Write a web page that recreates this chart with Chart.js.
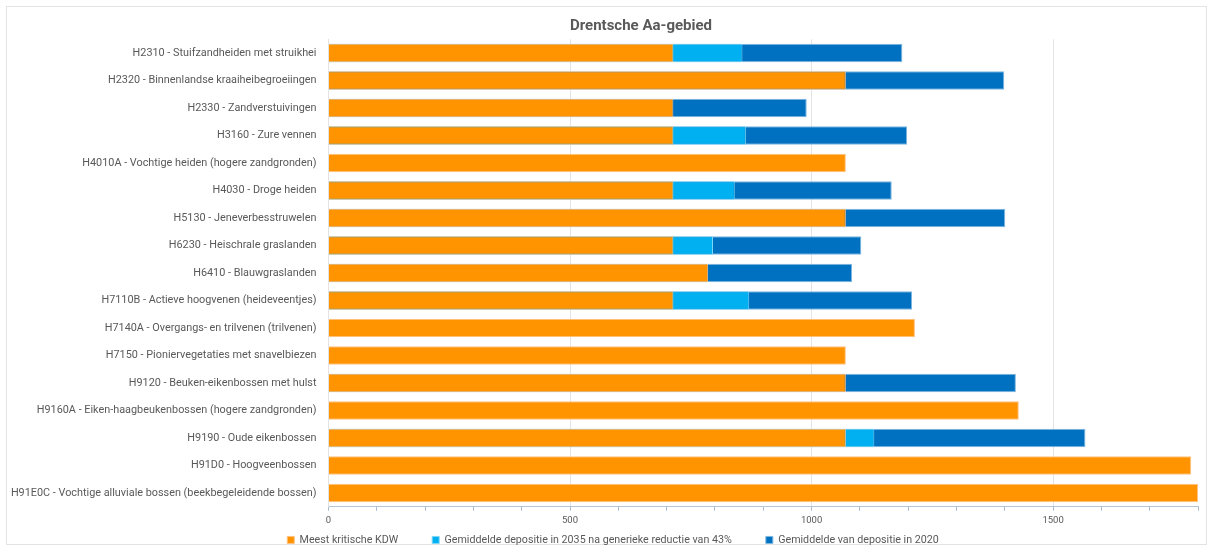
<!DOCTYPE html>
<html>
<head>
<meta charset="utf-8">
<script src="https://cdn.jsdelivr.net/npm/chart.js@4.4.1/dist/chart.umd.min.js"></script>
<style>
  html, body { margin: 0; padding: 0; background: #ffffff; }
  #wrap { position: relative; width: 1213px; height: 551px; }
  canvas { display: block; }
</style>
</head>
<body>
<div id="wrap"><canvas id="c" width="1213" height="551" style="width:1213px;height:551px"></canvas></div>
<script>
const chartTitle = 'Drentsche Aa-gebied';

const categories = [
  'H2310 - Stuifzandheiden met struikhei',
  'H2320 - Binnenlandse kraaiheibegroeiingen',
  'H2330 - Zandverstuivingen',
  'H3160 - Zure vennen',
  'H4010A - Vochtige heiden (hogere zandgronden)',
  'H4030 - Droge heiden',
  'H5130 - Jeneverbesstruwelen',
  'H6230 - Heischrale graslanden',
  'H6410 - Blauwgraslanden',
  'H7110B - Actieve hoogvenen (heideveentjes)',
  'H7140A - Overgangs- en trilvenen (trilvenen)',
  'H7150 - Pioniervegetaties met snavelbiezen',
  'H9120 - Beuken-eikenbossen met hulst',
  'H9160A - Eiken-haagbeukenbossen (hogere zandgronden)',
  'H9190 - Oude eikenbossen',
  'H91D0 - Hoogveenbossen',
  'H91E0C - Vochtige alluviale bossen (beekbegeleidende bossen)'
];

const seriesNames = [
  'Meest kritische KDW',
  'Gemiddelde depositie in 2035 na generieke reductie van 43%',
  'Gemiddelde van depositie in 2020'
];

// Values (bars overlap; values hidden behind a longer front bar are left empty)
const kdw     = [714, 1071, 714, 714, 1071, 714, 1071, 714, 786, 714, 1214, 1071, 1071, 1429, 1071, 1786, 1800];
const dep2035 = [857, null, null, 864, null, 841, null, 796, null, 871, null, null, null, null, 1130, null, null];
const dep2020 = [1188, 1399, 990, 1198, null, 1166, 1401, 1103, 1084, 1208, null, null, 1423, null, 1567, null, null];

const xTickLabels = [0, 500, 1000, 1500];
const xMin = 0, xMax = 1800, xMinorStep = 100;

const colors = ['#FF9300', '#00B0F0', '#0070C0'];
const edgeColors = ['#FFC27F', '#7FD7F7', '#7FB7DF'];

const FONT = 'Roboto, "Liberation Sans", sans-serif';
Chart.defaults.font.family = FONT;
Chart.defaults.color = '#595959';

const framePlugin = {
  id: 'frame',
  beforeDraw(chart) {
    const ctx = chart.ctx;
    ctx.save();
    ctx.fillStyle = '#ffffff';
    ctx.fillRect(0, 0, chart.width, chart.height);
    ctx.strokeStyle = '#e3e3e3';
    ctx.lineWidth = 1;
    ctx.strokeRect(6.5, 6.5, chart.width - 13, chart.height - 13);
    ctx.restore();
  }
};

const titlePlugin = {
  id: 'offsetTitle',
  afterDraw(chart) {
    const ctx = chart.ctx;
    ctx.save();
    ctx.font = 'bold 15px ' + FONT;
    ctx.fillStyle = '#595959';
    ctx.textAlign = 'center';
    ctx.textBaseline = 'middle';
    ctx.fillText(chartTitle, 641, 26);
    ctx.restore();
  }
};

// place the legend row where the reference has it
const legendPlacePlugin = {
  id: 'legendPlace',
  afterLayout(chart) {
    const lg = chart.legend;
    if (!lg) return;
    lg.top = 500.6;
    lg.bottom = chart.height;
    lg.height = lg.bottom - lg.top;
    lg.left += 11;
    lg.right += 11;
  }
};

const datasets = [kdw, dep2035, dep2020].map((vals, i) => ({
  label: seriesNames[i],
  data: vals,
  backgroundColor: colors[i],
  borderColor: edgeColors[i],
  borderWidth: 1,
  borderSkipped: 'start',
  grouped: false,
  barPercentage: 0.68,
  categoryPercentage: 1.0
}));

new Chart(document.getElementById('c'), {
  type: 'bar',
  data: { labels: categories, datasets },
  plugins: [framePlugin, titlePlugin, legendPlacePlugin],
  options: {
    indexAxis: 'y',
    responsive: false,
    animation: false,
    layout: { padding: { left: 6, right: 15, top: 39.25, bottom: 0 } },
    plugins: {
      title: { display: false },
      tooltip: { enabled: false },
      legend: {
        position: 'bottom',
        maxHeight: 20.25,
        labels: {
          boxWidth: 7,
          boxHeight: 7,
          padding: 34,
          color: '#595959',
          font: { size: 10.7 }
        }
      }
    },
    scales: {
      x: {
        type: 'linear',
        min: xMin,
        max: xMax,
        afterFit(scale) { scale.height = 24; },
        afterBuildTicks(scale) {
          const t = [];
          for (let v = xMin; v <= xMax; v += xMinorStep) t.push({ value: v });
          scale.ticks = t;
        },
        ticks: {
          autoSkip: false,
          maxRotation: 0,
          padding: 4,
          color: '#595959',
          font: { size: 9.5 },
          callback: (v) => xTickLabels.includes(v) ? String(v) : ''
        },
        grid: {
          drawTicks: true,
          tickLength: 4,
          color: (ctx) => (ctx.tick && xTickLabels.includes(ctx.tick.value) && ctx.tick.value !== 0) ? '#e4e4e4' : 'rgba(0,0,0,0)',
          tickColor: '#a9bccf',
          lineWidth: 1
        },
        border: { display: true, color: '#b3c6d8', width: 1 }
      },
      y: {
        afterFit(scale) { scale.width = 322.5; },
        ticks: {
          padding: 12,
          color: '#595959',
          font: { size: 10.85 }
        },
        grid: { display: false, drawTicks: false },
        border: { display: true, color: '#e3e3e3', width: 1 }
      }
    }
  }
});
</script>
</body>
</html>
